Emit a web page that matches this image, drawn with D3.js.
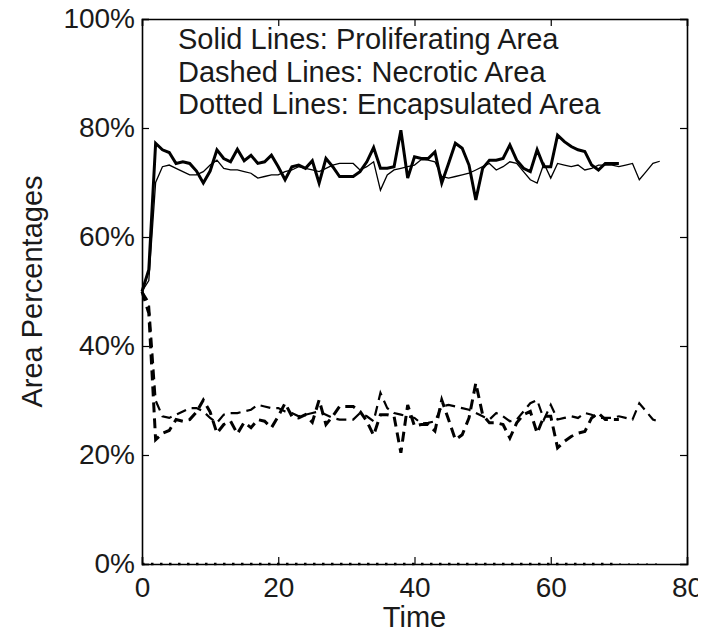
<!DOCTYPE html>
<html>
<head>
<meta charset="utf-8">
<script src="https://cdn.jsdelivr.net/npm/d3@7"></script>
<style>
  html, body { margin: 0; padding: 0; background: #fff; }
  svg { display: block; }
  text { font-family: Arial, "Liberation Sans", Helvetica, sans-serif; fill: #1a1a1a; }
</style>
</head>
<body>
<svg id="chart" width="715" height="632"></svg>
<script>
// Simulation time steps for the two runs
const timeA = [0,1,2,3,4,5,6,7,8,9,10,11,12,13,14,15,16,17,18,19,20,21,22,23,24,25,26,27,28,29,30,
  31,32,33,34,35,36,37,38,39,40,41,42,43,44,45,46,47,48,49,50,51,52,53,54,55,56,57,58,59,60,
  61,62,63,64,65,66,67,68,69,70];
const timeB = [0,1,2,3,4,5,6,7,8,9,10,11,12,13,14,15,16,17,18,19,20,21,22,23,24,25,26,27,28,29,30,
  31,32,33,34,35,36,37,38,39,40,41,42,43,44,45,46,47,48,49,50,51,52,53,54,55,56,57,58,59,60,
  61,62,63,64,65,66,67,68,69,70,71,72,73,74,75,76];

// Run A (heavy lines): area percentages
const proliferatingA = [50,54,77.2,76.0,75.5,73.5,73.8,73.5,72.1,69.9,72.1,76.0,74.4,73.8,76.1,74.0,
  75.0,73.5,73.8,75.0,72.9,70.5,72.9,73.2,72.6,74.0,69.9,74.4,72.9,71.1,71.1,71.1,72.0,73.8,76.4,
  72.6,72.6,72.9,79.6,70.8,74.7,74.4,74.4,75.6,69.9,73.5,77.2,76.3,73.2,66.8,72.6,74.1,74.1,74.4,
  76.9,74.1,72.6,72.0,76.0,72.9,72.9,78.7,77.5,76.6,76.0,75.7,73.2,72.3,73.5,73.5,73.5];
const necroticA = [50,46,22.8,24.0,24.5,26.5,26.2,26.5,27.9,30.1,27.9,24.0,25.6,26.2,23.9,26.0,
  25.0,26.5,26.2,25.0,27.1,29.5,27.1,26.8,27.4,26.0,30.1,25.6,27.1,28.9,28.9,28.9,28.0,26.2,23.6,
  27.4,27.4,27.1,20.4,29.2,25.3,25.6,25.6,24.4,30.1,26.5,22.8,23.7,26.8,33.2,27.4,25.9,25.9,25.6,
  23.1,25.9,27.4,28.0,24.0,27.1,27.1,21.3,22.5,23.4,24.0,24.3,26.8,27.7,26.5,26.5,26.5];
const encapsulatedA = [0,0,0,0,0,0,0,0,0,0,0,0,0,0,0,0,0,0,0,0,0,0,0,0,0,0,0,0,0,0,0,0,0,0,0,0,
  0,0,0,0,0,0,0,0,0,0,0,0,0,0,0,0,0,0,0,0,0,0,0,0,0,0,0,0,0,0,0,0,0,0,0];

// Run B (light lines): area percentages
const proliferatingB = [50,52,70,72.9,73.2,72.6,72.0,71.4,71.4,72.0,73.2,74.1,72.6,72.3,72.3,72.0,
  71.7,70.8,71.1,71.4,71.4,72.0,72.3,72.9,72.6,72.3,72.0,72.6,73.2,73.5,73.5,73.5,72.3,72.9,73.8,
  68.6,71.4,72.3,72.6,72.9,73.2,74.2,74.1,73.8,71.1,70.8,71.1,71.4,71.7,72.3,72.9,73.5,72.3,72.9,
  73.8,73.5,72.0,70.5,69.9,73.5,70.8,73.5,73.2,72.9,73.2,72.3,72.6,73.2,73.2,73.2,72.9,73.2,73.5,
  70.5,72.0,73.5,73.9];
const necroticB = [50,48,30,27.1,26.8,27.4,28.0,28.6,28.6,28.0,26.8,25.9,27.4,27.7,27.7,28.0,
  28.3,29.2,28.9,28.6,28.6,28.0,27.7,27.1,27.4,27.7,28.0,27.4,26.8,26.5,26.5,26.5,27.7,27.1,26.2,
  31.4,28.6,27.7,27.4,27.1,26.8,25.8,25.9,26.2,28.9,29.2,28.9,28.6,28.3,27.7,27.1,26.5,27.7,27.1,
  26.2,26.5,28.0,29.5,30.1,26.5,29.2,26.5,26.8,27.1,26.8,27.7,27.4,26.8,26.8,26.8,27.1,26.8,26.5,
  29.5,28.0,26.5,26.1];
const encapsulatedB = [0,0,0,0,0,0,0,0,0,0,0,0,0,0,0,0,0,0,0,0,0,0,0,0,0,0,0,0,0,0,0,0,0,0,0,0,
  0,0,0,0,0,0,0,0,0,0,0,0,0,0,0,0,0,0,0,0,0,0,0,0,0,0,0,0,0,0,0,0,0,0,0,0,0,0,0,0,0];

// Axis ticks and annotation text
const xTicks = [0, 20, 40, 60, 80];
const yTicks = [0, 20, 40, 60, 80, 100];
const noteLines = [
  "Solid Lines: Proliferating Area",
  "Dashed Lines: Necrotic Area",
  "Dotted Lines: Encapsulated Area"
];

(function () {
  const svg = d3.select("#chart");
  const plotL = 142, plotR = 687, plotT = 19, plotB = 564;

  // Figure is cropped just past the last tick label
  svg.append("defs").append("clipPath").attr("id", "figclip")
    .append("rect").attr("x", 0).attr("y", 0).attr("width", 698).attr("height", 632);
  const root = svg.append("g").attr("clip-path", "url(#figclip)");

  const x = d3.scaleLinear().domain([0, 80]).range([plotL, plotR]);
  const y = d3.scaleLinear().domain([0, 100]).range([plotB, plotT]);

  // Plot lines
  const plot = root.append("g");
  function drawSeries(times, values, width, dash) {
    const line = d3.line().x((d, i) => x(times[i])).y(d => y(d));
    plot.append("path")
      .datum(values)
      .attr("d", line)
      .attr("fill", "none")
      .attr("stroke", "#000")
      .attr("stroke-width", width)
      .attr("stroke-linejoin", "miter")
      .attr("stroke-dasharray", dash);
  }
  drawSeries(timeB, encapsulatedB, 1.2, "2,7");
  drawSeries(timeA, encapsulatedA, 2.6, "2.5,6.5");
  drawSeries(timeB, proliferatingB, 1.3, null);
  drawSeries(timeA, proliferatingA, 3, null);
  drawSeries(timeB, necroticB, 2.2, "10,6");
  drawSeries(timeA, necroticA, 3, "10,6");

  // Axes: box with inward ticks on all four sides
  const tickFont = "28px";
  const ax = root.append("g");
  ax.append("g").attr("transform", `translate(0,${plotB})`)
    .call(d3.axisBottom(x).tickValues(xTicks).tickSize(-7).tickPadding(13).tickFormat(d3.format("d")))
    .call(g => g.selectAll("text").style("font-size", tickFont).attr("fill", "#1a1a1a"));
  ax.append("g").attr("transform", `translate(0,${plotT})`)
    .call(d3.axisTop(x).tickValues(xTicks).tickSize(-7).tickFormat(""));
  ax.append("g").attr("transform", `translate(${plotL},0)`)
    .call(d3.axisLeft(y).tickValues(yTicks).tickSize(-7).tickPadding(7).tickFormat(d => d + "%"))
    .call(g => g.selectAll("text").style("font-size", tickFont).attr("fill", "#1a1a1a"));
  ax.append("g").attr("transform", `translate(${plotR},0)`)
    .call(d3.axisRight(y).tickValues(yTicks).tickSize(-7).tickFormat(""));
  ax.selectAll(".domain").attr("stroke", "#000").attr("stroke-width", 1.6);
  ax.selectAll(".tick line").attr("stroke", "#000").attr("stroke-width", 1.2);

  // Axis titles
  root.append("text")
    .attr("x", (plotL + plotR) / 2).attr("y", 627)
    .attr("text-anchor", "middle").style("font-size", "29px")
    .text("Time");
  root.append("text")
    .attr("transform", `translate(42,${(plotT + plotB) / 2}) rotate(-90)`)
    .attr("text-anchor", "middle").style("font-size", "29px")
    .text("Area Percentages");

  // Line-style key
  root.append("g").selectAll("text")
    .data(noteLines).join("text")
    .attr("x", 178)
    .attr("y", (d, i) => 49 + i * 32.5)
    .style("font-size", "29px")
    .text(d => d);
})();
</script>
</body>
</html>
